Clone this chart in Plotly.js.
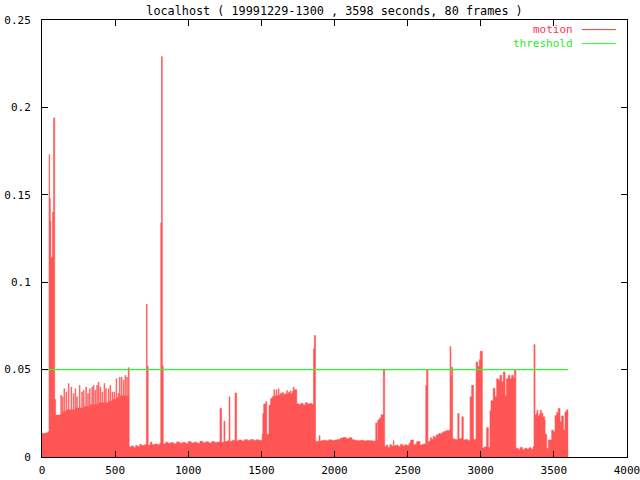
<!DOCTYPE html>
<html>
<head>
<meta charset="utf-8">
<script src="https://cdn.plot.ly/plotly-3.0.1.min.js"></script>
<style>html,body{margin:0;padding:0;background:#fff;}#chart{width:640px;height:480px;}</style>
</head>
<body>
<div id="chart"></div>
<script>
// Time (seconds) of each step start, and motion value from that time on
const times = [
  0, 25, 40, 48, 52, 57, 61, 72, 79, 87, 93,
  128, 133, 139, 144, 150, 155, 164, 169, 180, 185, 198, 203, 214, 219, 226, 231, 237, 242,
  255, 260, 271, 276, 283, 288, 299, 304, 312, 317, 324, 329, 340, 345, 351, 356, 362, 367,
  374, 379, 385, 390, 397, 402, 410, 415, 424, 429, 435, 440, 453, 458, 465, 470, 479, 484,
  492, 497, 506, 511, 520, 525, 529, 534, 542, 547, 556, 561, 567, 572, 579, 584, 590, 596,
  610, 625, 640, 655, 668, 680, 700, 714, 719, 726, 740, 752, 770, 790, 805, 812, 817, 823, 829,
  845, 860, 880, 900, 920, 940, 960, 980, 1000, 1020, 1040, 1060, 1080, 1100, 1120, 1140, 1160,
  1180, 1200, 1217, 1228, 1244, 1251, 1265, 1279, 1285, 1300, 1320, 1331, 1345, 1365, 1385,
  1405, 1425, 1445, 1465, 1485, 1505, 1510, 1516, 1530, 1537, 1552, 1563, 1575, 1585, 1590,
  1600, 1605, 1616, 1621, 1630, 1645, 1650, 1660, 1673, 1678, 1685, 1696, 1701, 1710, 1718,
  1724, 1737, 1742, 1755, 1770, 1785, 1800, 1815, 1830, 1845, 1856, 1862, 1870, 1895, 1901,
  1920, 1940, 1960, 1980, 2000, 2020, 2040, 2060, 2080, 2100, 2120, 2140, 2160, 2180, 2200,
  2220, 2240, 2260, 2282, 2291, 2296, 2306, 2318, 2334, 2343, 2355, 2365, 2378, 2390, 2402,
  2407, 2420, 2435, 2450, 2465, 2480, 2495, 2510, 2520, 2540, 2555, 2562, 2585, 2600, 2610,
  2624, 2630, 2639, 2645, 2655, 2665, 2675, 2685, 2695, 2705, 2715, 2725, 2735, 2745, 2755,
  2765, 2775, 2785, 2790, 2796, 2801, 2808, 2820, 2843, 2852, 2871, 2881, 2895, 2910, 2927,
  2938, 2950, 2968, 2979, 2990, 2996, 3011, 3025, 3040, 3052, 3063, 3070, 3085, 3097, 3109,
  3120, 3131, 3143, 3154, 3166, 3175, 3188, 3200, 3211, 3222, 3230, 3240, 3255, 3270, 3285,
  3300, 3315, 3330, 3345, 3358, 3364, 3371, 3380, 3385, 3391, 3400, 3407, 3414, 3425, 3437,
  3440, 3451, 3462, 3485, 3496, 3508, 3519, 3530, 3542, 3553, 3565, 3576, 3587, 3598
];
const motion = [
  0.0135, 0.0138, 0.0145, 0.173, 0.148, 0.135, 0.114, 0.140, 0.194, 0.033, 0.024,
  0.0353, 0.025, 0.0344, 0.026, 0.0391, 0.026, 0.0372, 0.027, 0.0420, 0.027, 0.0400, 0.027, 0.0363, 0.027, 0.0391, 0.028, 0.0344, 0.028,
  0.0410, 0.028, 0.0372, 0.028, 0.0382, 0.029, 0.0400, 0.029, 0.0363, 0.029, 0.0391, 0.030, 0.0400, 0.030, 0.0410, 0.030, 0.0382, 0.030,
  0.0410, 0.030, 0.0429, 0.031, 0.0400, 0.031, 0.0372, 0.031, 0.0420, 0.031, 0.0391, 0.031, 0.0391, 0.032, 0.0410, 0.032, 0.0372, 0.033,
  0.0372, 0.033, 0.0448, 0.034, 0.0363, 0.034, 0.0457, 0.035, 0.0457, 0.035, 0.0439, 0.035, 0.0467, 0.035, 0.0457, 0.035, 0.0511, 0.0057,
  0.0063, 0.0055, 0.0065, 0.0060, 0.0072, 0.0066, 0.0070, 0.0875, 0.052, 0.0068, 0.0085, 0.0070, 0.0074, 0.0070, 0.0078, 0.134, 0.229, 0.052, 0.0075,
  0.0085, 0.0078, 0.0082, 0.0076, 0.0086, 0.0079, 0.0083, 0.0077, 0.0088, 0.0080, 0.0085, 0.0078, 0.0090, 0.0082, 0.0087, 0.0080, 0.0088,
  0.0083, 0.0086, 0.0277, 0.0085, 0.0205, 0.0087, 0.0092, 0.0344, 0.0090, 0.0095, 0.0366, 0.0093, 0.0097, 0.0092, 0.0099,
  0.0094, 0.0100, 0.0095, 0.0098, 0.0094, 0.0130, 0.0249, 0.0303, 0.0316, 0.0130, 0.0296, 0.0334, 0.0345, 0.0385, 0.0350,
  0.0385, 0.0352, 0.0390, 0.0355, 0.0365, 0.0370, 0.0356, 0.0362, 0.0380, 0.0360, 0.0370, 0.0378, 0.0362, 0.0375, 0.0400,
  0.0385, 0.0385, 0.0305, 0.0300, 0.0307, 0.0298, 0.0310, 0.0303, 0.0306, 0.0302, 0.0619, 0.0695, 0.0090, 0.0122, 0.0092,
  0.0096, 0.0093, 0.0098, 0.0094, 0.0097, 0.0100, 0.0108, 0.0112, 0.0105, 0.0110, 0.0098, 0.0095, 0.0093, 0.0096, 0.0092,
  0.0095, 0.0093, 0.0091, 0.0195, 0.0100, 0.0210, 0.0222, 0.0241, 0.0499, 0.0060, 0.0068, 0.0055, 0.0070, 0.0062, 0.0093,
  0.0064, 0.0068, 0.0060, 0.0072, 0.0065, 0.0070, 0.0066, 0.0078, 0.0097, 0.0070, 0.0075, 0.0088, 0.0068, 0.0072, 0.0075,
  0.0410, 0.0499, 0.0085, 0.0090, 0.0110, 0.0100, 0.0118, 0.0112, 0.0125, 0.0130, 0.0135, 0.0132, 0.0140, 0.0145, 0.0148,
  0.0152, 0.0150, 0.0155, 0.0632, 0.0460, 0.0514, 0.0105, 0.0100, 0.0249, 0.0105, 0.0230, 0.0097, 0.0100, 0.0095, 0.0344,
  0.0410, 0.0100, 0.0543, 0.0518, 0.0556, 0.0605, 0.0052, 0.0058, 0.0167, 0.0055, 0.0265, 0.0322, 0.0394, 0.0344, 0.0447,
  0.0439, 0.0467, 0.0429, 0.0486, 0.0350, 0.0447, 0.0467, 0.0447, 0.0467, 0.0455, 0.0499, 0.0050, 0.0045, 0.0055, 0.0042,
  0.0050, 0.0046, 0.0053, 0.0044, 0.0060, 0.0643, 0.0240, 0.0250, 0.0268, 0.0235, 0.0245, 0.0268, 0.0250, 0.0230, 0.0211,
  0.0130, 0.0050, 0.0097, 0.0154, 0.0144, 0.0238, 0.0255, 0.0278, 0.0202, 0.0235, 0.0154, 0.0258, 0.0270, 0.0270
];
const thresholdTimes = [0, 3598];
const thresholdValues = [0.05, 0.05];

const xTicks = [0, 500, 1000, 1500, 2000, 2500, 3000, 3500, 4000];
const yTicks = [0, 0.05, 0.1, 0.15, 0.2, 0.25];
const yTickText = ['0', '0.05', '0.1', '0.15', '0.2', '0.25'];

const titleText = 'localhost ( 19991229-1300 , 3598 seconds, 80 frames )';
const seriesNames = ['motion', 'threshold'];

const FONT = 'DejaVu Sans Mono, monospace';
const RED = '#ff5555';
const GREEN = '#22ff22';

const traces = [
  {
    x: times, y: motion, name: seriesNames[0], type: 'scatter', mode: 'lines',
    line: {shape: 'hv', color: RED, width: 0.6}, fill: 'tozeroy', fillcolor: RED,
    hoverinfo: 'skip'
  },
  {
    x: thresholdTimes, y: thresholdValues, name: seriesNames[1], type: 'scatter', mode: 'lines',
    line: {color: GREEN, width: 1.4}, hoverinfo: 'skip'
  }
];

const axisCommon = {
  showline: true, linecolor: '#000', linewidth: 1, mirror: 'ticks',
  ticks: 'inside', ticklen: 6, tickcolor: '#000', tickwidth: 1,
  showgrid: false, zeroline: false, fixedrange: true, ticklabeloverflow: 'allow',
  tickfont: {family: FONT, size: 11, color: '#000'}
};

const layout = {
  width: 640, height: 480,
  margin: {l: 42, r: 13, t: 20, b: 23, pad: 0},
  paper_bgcolor: '#fff', plot_bgcolor: '#fff',
  showlegend: false,
  title: {text: titleText, font: {family: FONT, size: 11.8, color: '#000'},
          x: 0.5, xref: 'paper', xanchor: 'center', y: 1 - 11 / 480, yref: 'container', yanchor: 'middle'},
  xaxis: Object.assign({}, axisCommon, {range: [0, 4000], tickvals: xTicks, ticklabelstandoff: 3}),
  yaxis: Object.assign({}, axisCommon, {range: [0, 0.25], tickvals: yTicks, ticktext: yTickText, ticklabelstandoff: 8}),
  annotations: [
    {text: seriesNames[0], xref: 'paper', yref: 'paper', x: 0.909, y: 0.978, xanchor: 'right', yanchor: 'middle',
     showarrow: false, borderpad: 0, font: {family: FONT, size: 11, color: '#ff3355'}},
    {text: seriesNames[1], xref: 'paper', yref: 'paper', x: 0.909, y: 0.946, xanchor: 'right', yanchor: 'middle',
     showarrow: false, borderpad: 0, font: {family: FONT, size: 11, color: '#22ee22'}}
  ],
  shapes: [
    {type: 'line', xref: 'paper', yref: 'paper', x0: 0.923, x1: 0.981, y0: 0.978, y1: 0.978, line: {color: '#ff3333', width: 1}},
    {type: 'line', xref: 'paper', yref: 'paper', x0: 0.923, x1: 0.981, y0: 0.946, y1: 0.946, line: {color: '#22ff22', width: 1}}
  ]
};

Plotly.newPlot('chart', traces, layout, {staticPlot: true, displayModeBar: false});
</script>
</body>
</html>
